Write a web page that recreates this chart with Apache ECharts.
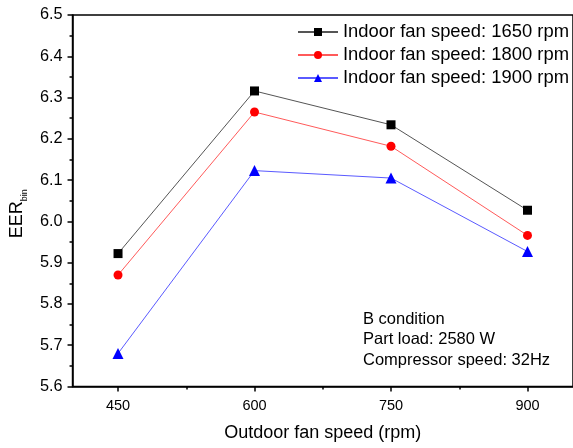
<!DOCTYPE html>
<html>
<head>
<meta charset="utf-8">
<script src="https://cdn.jsdelivr.net/npm/echarts@6/dist/echarts.min.js"></script>
<style>html,body{margin:0;padding:0;background:#fff}#c{width:573px;height:448px}</style>
</head>
<body>
<div id="c"></div>
<script>
const fanSpeeds = [450, 600, 750, 900];
const eer1650 = [5.922, 6.316, 6.234, 6.027];
const eer1800 = [5.870, 6.265, 6.182, 5.966];
const eer1900 = [5.680, 6.123, 6.105, 5.927];
const seriesNames = ['Indoor fan speed: 1650 rpm', 'Indoor fan speed: 1800 rpm', 'Indoor fan speed: 1900 rpm'];
const xMajorTicks = [450, 600, 750, 900];
const xMinorTicks = [525, 675, 825];
const noteLines = ['B condition', 'Part load: 2580 W', 'Compressor speed: 32Hz'];

const FONT = 'Liberation Sans, Arial, sans-serif';
const pairs = v => fanSpeeds.map((x, i) => [x, v[i]]);

const chart = echarts.init(document.getElementById('c'), null, {renderer: 'canvas'});
chart.setOption({
  animation: false,
  backgroundColor: '#fff',
  grid: {left: 70, right: -2.3, top: 15, bottom: 61.5, show: true, borderColor: '#000', borderWidth: 1.5, containLabel: false},
  legend: {
    orient: 'vertical', left: 292, top: 18,
    itemWidth: 40, itemHeight: 10, itemGap: 5,
    textStyle: {fontFamily: FONT, fontSize: 18.4, color: '#000', lineHeight: 18},
    data: seriesNames
  },
  xAxis: [{
    type: 'value', min: 400, max: 950, position: 'bottom',
    axisLine: {show: true, lineStyle: {color: '#000', width: 1.5}},
    axisTick: {show: true, inside: false, length: 5, customValues: xMajorTicks, lineStyle: {color: '#000', width: 1.5}},
    axisLabel: {show: true, customValues: xMajorTicks, fontFamily: FONT, fontSize: 14.5, color: '#000', margin: 12},
    splitLine: {show: false},
    name: 'Outdoor fan speed (rpm)', nameLocation: 'middle', nameGap: 38,
    nameTextStyle: {fontFamily: FONT, fontSize: 18, color: '#000'}
  }, {
    type: 'value', min: 400, max: 950, position: 'bottom', offset: 0,
    axisLine: {show: false},
    axisTick: {show: true, inside: false, length: 3, customValues: xMinorTicks, lineStyle: {color: '#000', width: 1.5}},
    axisLabel: {show: false},
    splitLine: {show: false}
  }],
  yAxis: {
    type: 'value', min: 5.6, max: 6.5, interval: 0.1,
    axisLine: {show: true, lineStyle: {color: '#000', width: 1.5}},
    axisTick: {show: true, inside: false, length: 5, lineStyle: {color: '#000', width: 1.5}},
    minorTick: {show: true, splitNumber: 2, length: 3, lineStyle: {color: '#000', width: 1.5}},
    axisLabel: {fontFamily: FONT, fontSize: 16.3, color: '#000', margin: 10, formatter: v => v.toFixed(1)},
    splitLine: {show: false},
    name: '{m|EER}{s|bin}', nameLocation: 'middle', nameRotate: 90, nameGap: 44,
    nameTextStyle: {
      fontFamily: FONT, color: '#000', padding: [0, 26, 0, 0],
      rich: {
        m: {fontFamily: FONT, fontSize: 18, color: '#000', lineHeight: 22, verticalAlign: 'bottom'},
        s: {fontFamily: FONT, fontSize: 9, color: '#000', lineHeight: 22, verticalAlign: 'bottom', padding: [0,0,-3,0]}
      }
    }
  },
  graphic: [{
    type: 'text', left: 363, top: 309,
    style: {text: noteLines.join('\n'), fontFamily: FONT, fontSize: 16.5, lineHeight: 20.5, fill: '#000'}
  }],
  series: [{
    name: seriesNames[0], type: 'line', data: pairs(eer1650),
    symbol: 'rect', symbolSize: 9,
    itemStyle: {color: '#000'}, lineStyle: {color: '#555', width: 1}
  }, {
    name: seriesNames[1], type: 'line', data: pairs(eer1800),
    symbol: 'circle', symbolSize: 9,
    itemStyle: {color: '#ff0000'}, lineStyle: {color: '#ff5a5a', width: 1}
  }, {
    name: seriesNames[2], type: 'line', data: pairs(eer1900),
    symbol: 'triangle', symbolSize: 11,
    itemStyle: {color: '#0000ff'}, lineStyle: {color: '#5a5aff', width: 1}
  }]
});
</script>
</body>
</html>
